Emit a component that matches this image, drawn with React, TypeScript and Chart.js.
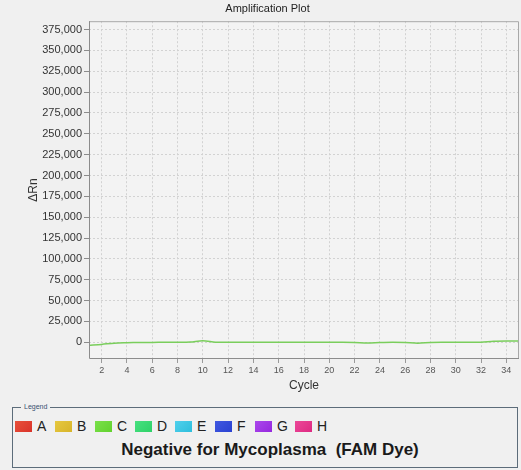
import React, { useEffect, useRef } from "react";
import { Chart, registerables } from "chart.js";

Chart.register(...registerables);

const cycles = [1, 2, 3, 4, 5, 6, 7, 8, 9, 10, 11, 12, 13, 14, 15, 16, 17, 18, 19, 20, 21, 22, 23, 24, 25, 26, 27, 28, 29, 30, 31, 32, 33, 34, 35];
const deltaRnC = [-3600, -2500, -1000, -500, -200, -100, 0, 0, 300, 1900, 200, 0, 0, 0, 0, 0, 0, 0, 0, 0, 0, -200, -900, -300, 0, -300, -1000, -200, 0, 0, 0, 200, 1200, 1500, 1500];
const yTickValues = [0, 25000, 50000, 75000, 100000, 125000, 150000, 175000, 200000, 225000, 250000, 275000, 300000, 325000, 350000, 375000];
const xTickValues = [2, 4, 6, 8, 10, 12, 14, 16, 18, 20, 22, 24, 26, 28, 30, 32, 34];
const wells = ["A", "B", "C", "D", "E", "F", "G", "H"];
const wellColors = ["#d9332a", "#d8b42a", "#62d22e", "#2ed268", "#2ebedc", "#2a42d2", "#9628de", "#de2a82"];
const wellColorsLight = ["#e8503a", "#e6c840", "#7ae04a", "#48e080", "#50d0ec", "#4058e0", "#aa48ec", "#ec4898"];
const chartTitle = "Amplification Plot";
const yTitle = "ΔRn";
const xTitle = "Cycle";
const legendLabel = "Legend";
const resultText = "Negative for Mycoplasma  (FAM Dye)";
const lineWell = "C";

const FONT = "'Liberation Sans', Arial, sans-serif";

export default function App() {
  const canvasRef = useRef<HTMLCanvasElement | null>(null);

  useEffect(() => {
    const canvas = canvasRef.current;
    if (!canvas) return;
    const framePlugin = {
      id: "frame",
      beforeDraw(chart: any) {
        const { ctx, chartArea, width, height } = chart;
        ctx.save();
        ctx.fillStyle = "#f0f0f0";
        ctx.fillRect(0, 0, width, height);
        ctx.fillStyle = "#f3f3f3";
        ctx.fillRect(chartArea.left, chartArea.top, chartArea.right - chartArea.left, chartArea.bottom - chartArea.top);
        ctx.restore();
      },
      afterDraw(chart: any) {
        const { ctx, chartArea } = chart;
        ctx.save();
        ctx.lineWidth = 1;
        ctx.strokeStyle = "#a8a8a8";
        ctx.beginPath();
        ctx.moveTo(chartArea.left, chartArea.top + 0.5);
        ctx.lineTo(chartArea.right - 0.5, chartArea.top + 0.5);
        ctx.lineTo(chartArea.right - 0.5, chartArea.bottom);
        ctx.stroke();
        ctx.strokeStyle = "#8c8c8c";
        ctx.beginPath();
        ctx.moveTo(chartArea.left + 0.5, chartArea.top);
        ctx.lineTo(chartArea.left + 0.5, chartArea.bottom - 0.5);
        ctx.lineTo(chartArea.right, chartArea.bottom - 0.5);
        ctx.stroke();
        ctx.restore();
      },
    };

    const chart = new Chart(canvas, {
      type: "line",
      data: {
        datasets: [
          {
            label: lineWell,
            data: cycles.map((c, i) => ({ x: c, y: deltaRnC[i] })),
            borderColor: "#7ace5c",
            borderWidth: 1.5,
            pointRadius: 0,
            tension: 0.3,
            fill: false,
          },
        ],
      },
      options: {
        responsive: false,
        animation: false,
        layout: { padding: { left: 16, right: 2, top: 0, bottom: 0 } },
        plugins: {
          legend: { display: false },
          tooltip: { enabled: false },
          title: {
            display: true,
            text: chartTitle,
            color: "#222",
            font: { size: 11, family: FONT, weight: "normal", lineHeight: 1.2 },
            padding: { top: 2, bottom: 6 },
          },
        },
        scales: {
          x: {
            type: "linear",
            min: 1,
            max: 35,
            afterBuildTicks: (s: any) => {
              s.ticks = xTickValues.map((v) => ({ value: v }));
            },
            afterFit: (s: any) => {
              s.height = 41;
            },
            grid: {
              color: "#d2d2d2",
              lineWidth: 1,
              drawTicks: true,
              tickLength: 4,
              tickColor: "#9a9a9a",
              tickBorderDash: [],
            },
            border: { display: false, dash: [2, 2] },
            ticks: {
              font: { size: 9, family: FONT },
              color: "#555",
              padding: 2,
              maxRotation: 0,
              autoSkip: false,
            },
            title: {
              display: true,
              text: xTitle,
              color: "#333",
              font: { size: 12, family: FONT, lineHeight: 1.2 },
              padding: { top: 0, bottom: 7 },
            },
          },
          y: {
            type: "linear",
            min: -20000,
            max: 385000,
            afterBuildTicks: (s: any) => {
              s.ticks = yTickValues.map((v) => ({ value: v }));
            },
            afterFit: (s: any) => {
              s.width = 73;
            },
            grid: {
              color: "#d2d2d2",
              lineWidth: 1,
              drawTicks: true,
              tickLength: 5,
              tickColor: "#8c8c8c",
              tickBorderDash: [],
            },
            border: { display: false, dash: [2, 2] },
            ticks: {
              font: { size: 11, family: FONT },
              color: "#333",
              padding: 2,
              autoSkip: false,
              callback: (v: any) => Number(v).toLocaleString("en-US"),
            },
            title: {
              display: true,
              text: yTitle,
              color: "#333",
              font: { size: 12, family: FONT, lineHeight: 1.2 },
              padding: { top: 10, bottom: 0 },
            },
          },
        },
      },
      plugins: [framePlugin],
    } as any);
    return () => chart.destroy();
  }, []);

  return (
    <div
      style={{
        position: "fixed",
        left: 0,
        top: 0,
        width: 521,
        height: 470,
        background: "#f0f0f0",
        fontFamily: FONT,
        overflow: "hidden",
      }}
    >
      <canvas ref={canvasRef} width={521} height={400} style={{ position: "absolute", left: 0, top: 0, width: 521, height: 400 }} />
      <div
        style={{
          position: "absolute",
          left: 12,
          top: 407,
          width: 506,
          height: 61,
          border: "1px solid #5c6c7a",
          boxSizing: "border-box",
        }}
      >
        <div
          style={{
            position: "absolute",
            left: 8,
            top: -6,
            padding: "0 3px",
            background: "#f0f0f0",
            fontSize: 7,
            lineHeight: "10px",
            color: "#3a5070",
          }}
        >
          {legendLabel}
        </div>
        <div style={{ position: "absolute", left: 2, top: 12, display: "flex", height: 12 }}>
          {wells.map((w, i) => (
            <div key={w} style={{ width: 40, display: "flex", alignItems: "center" }}>
              <div
                style={{
                  width: 17,
                  height: 11,
                  background: `linear-gradient(135deg, ${wellColorsLight[i]}, ${wellColors[i]})`,
                }}
              />
              <span style={{ marginLeft: 5, fontSize: 14, color: "#222", lineHeight: "12px" }}>{w}</span>
            </div>
          ))}
        </div>
        <div
          style={{
            position: "absolute",
            left: 0,
            right: 0,
            top: 32,
            textAlign: "center",
            fontWeight: "bold",
            fontSize: 17,
            lineHeight: "20px",
            color: "#1a1a1a",
            whiteSpace: "pre",
            paddingLeft: 10,
          }}
        >
          {resultText}
        </div>
      </div>
    </div>
  );
}
